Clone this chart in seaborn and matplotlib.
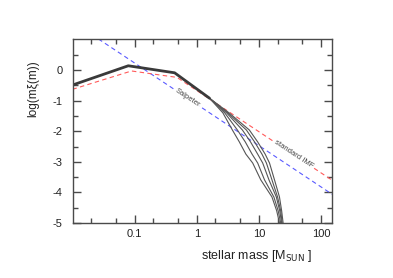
import matplotlib
matplotlib.use("Agg")
import matplotlib.pyplot as plt
import seaborn as sns
from matplotlib.ticker import FixedLocator, FixedFormatter, NullFormatter

# ---- data ----
common_m = [0.01, 0.079, 0.44, 1.6]
common_y = [-0.49, 0.14, -0.09, -0.92]

branch_y = [-0.92, -1.4, -1.96, -2.35, -2.75, -3.04, -3.59, -4.15, -4.6, -5.0]
branch1_m = [1.6, 2.63, 3.74, 4.84, 6.17, 7.94, 10.7, 16.2, 19.3, 21.4]
branch2_m = [1.6, 2.82, 4.5, 6.03, 7.76, 9.55, 12.3, 17.4, 20.4, 22.4]
branch3_m = [1.6, 3.02, 5.42, 7.33, 9.55, 11.5, 14.5, 19.05, 21.6, 23.2]
branch4_m = [1.6, 3.16, 6.28, 8.51, 11.2, 13.2, 16.2, 19.95, 22.4, 23.7]
branch5_m = [1.6, 3.31, 7.01, 9.55, 12.6, 14.8, 17.8, 21.4, 23.2, 24.5]

standard_m = [0.01, 0.089, 0.48, 150.0]
standard_y = [-0.63, -0.03, -0.24, -3.6]

salpeter_m = [0.01, 150.0]
salpeter_y = [1.58, -4.06]

xticks = [0.1, 1, 10, 100]
xticklabels = ["0.1", "1", "10", "100"]
yticks = [-5, -4, -3, -2, -1, 0]
yticklabels = ["-5", "-4", "-3", "-2", "-1", "0"]

# ---- style ----
sns.set_theme(style="ticks")
plt.rcParams["font.family"] = ["Liberation Sans", "DejaVu Sans"]
spine_c = "#4a4a4a"

fig = plt.figure(figsize=(3.93, 2.78), dpi=100)
ax = fig.add_axes([0.1845, 0.198, 0.6603, 0.660])

# Salpeter & standard IMF
sns.lineplot(x=salpeter_m, y=salpeter_y, ax=ax, color="#5a5aff", lw=0.8,
             linestyle=(0, (4, 3)), sort=False, estimator=None)
sns.lineplot(x=standard_m, y=standard_y, ax=ax, color="#ff5a5a", lw=0.8,
             linestyle=(0, (4, 3)), sort=False, estimator=None)

# branches
for bm in [branch1_m, branch2_m, branch3_m, branch4_m, branch5_m]:
    sns.lineplot(x=bm, y=branch_y, ax=ax, color="#555555", lw=0.8,
                 sort=False, estimator=None)
# common thick part
sns.lineplot(x=common_m, y=common_y, ax=ax, color="#3a3a3a", lw=2.0,
             sort=False, estimator=None)

ax.set_xscale("log")
ax.set_xlim(0.01, 150)
ax.set_ylim(-5, 1)

# ticks
ax.xaxis.set_major_locator(FixedLocator(xticks))
ax.xaxis.set_major_formatter(FixedFormatter(xticklabels))
minor_x = []
for dec in [0.01, 0.1, 1, 10, 100]:
    for f in (2, 5):
        if dec * f <= 150:
            minor_x.append(dec * f)
ax.xaxis.set_minor_locator(FixedLocator(minor_x))
ax.xaxis.set_minor_formatter(NullFormatter())
ax.yaxis.set_major_locator(FixedLocator(yticks))
ax.yaxis.set_major_formatter(FixedFormatter(yticklabels))
ax.yaxis.set_minor_locator(FixedLocator([-4.5, -3.5, -2.5, -1.5, -0.5, 0.5]))

ax.tick_params(which="both", direction="in", top=True, right=True,
               color=spine_c, width=1.0, labelsize=8, labelcolor="#222222")
ax.tick_params(which="major", length=6)
ax.tick_params(which="minor", length=3.3)
ax.tick_params(axis="y", which="major", pad=7)
ax.tick_params(axis="x", which="major", pad=4)
for s in ax.spines.values():
    s.set_color(spine_c)
    s.set_linewidth(1.0)
    s.set_visible(True)

ax.set_xlabel(r"stellar mass [M$_{\rm SUN}$ ]", fontsize=9, color="#222222")
ax.xaxis.set_label_coords(0.711, -0.135)
ax.set_ylabel("log(mξ(m))", fontsize=8.5, color="#222222")
ax.yaxis.set_label_coords(-0.13, 0.733)

# labels on lines
ax.text(0.70, -0.92, "Salpeter", fontsize=5.5, color="#444444", rotation=-33.5,
        ha="center", va="center", rotation_mode="anchor",
        bbox=dict(facecolor="white", edgecolor="none", pad=0.2))
ax.text(37, -2.74, "standard IMF", fontsize=5.5, color="#444444", rotation=-33.5,
        ha="center", va="center", rotation_mode="anchor",
        bbox=dict(facecolor="white", edgecolor="none", pad=0.2))

fig.savefig("out.png", dpi=100)
